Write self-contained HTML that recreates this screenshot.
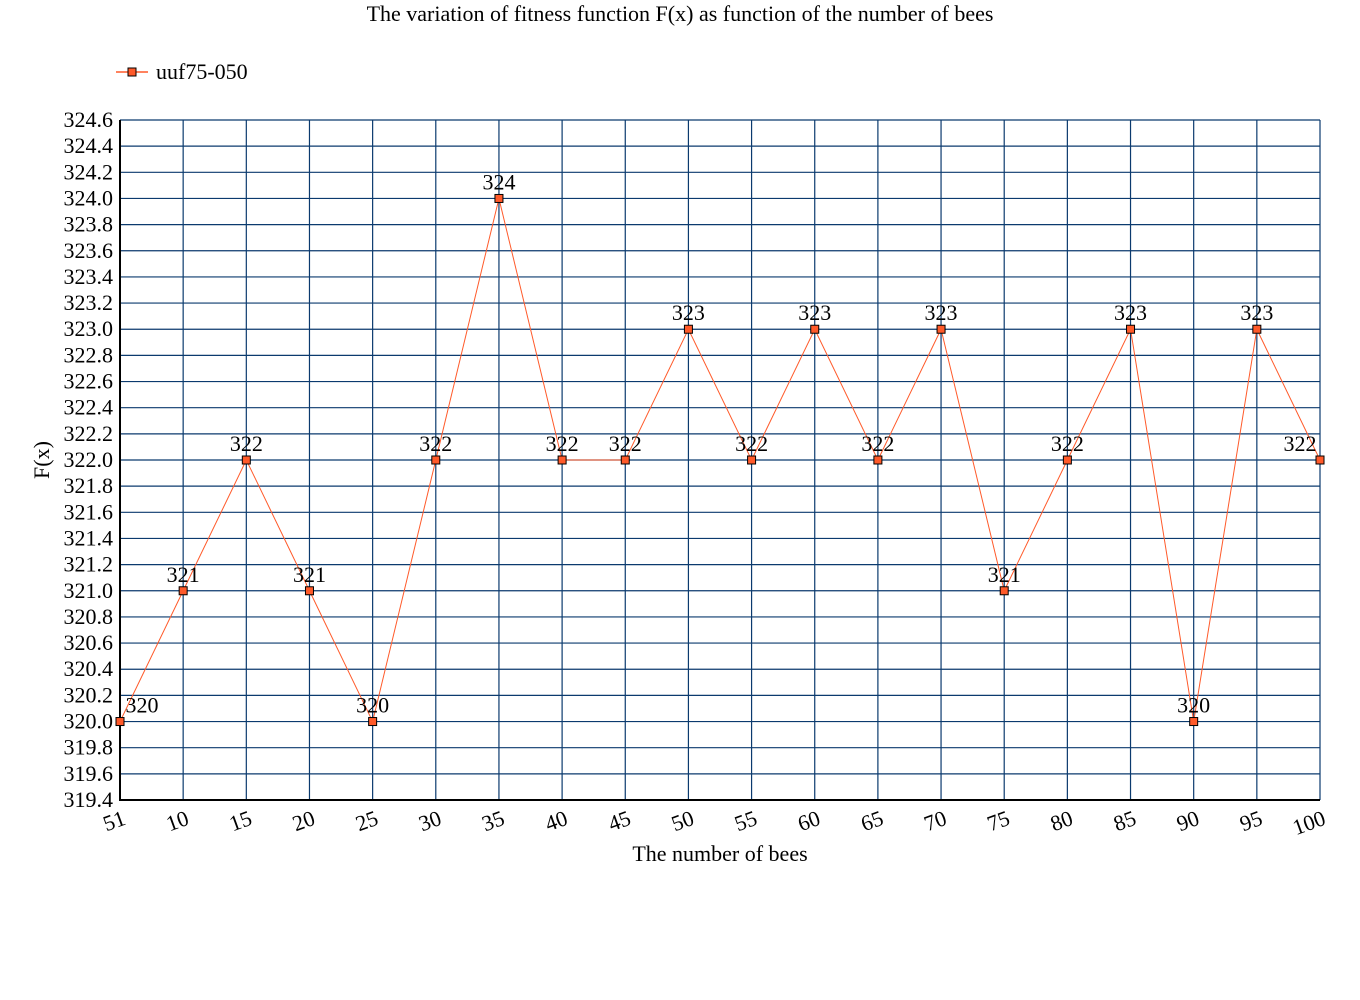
<!DOCTYPE html>
<html><head><meta charset="utf-8"><style>
body{margin:0;background:#fff}
svg{display:block;font-family:"Liberation Serif",serif}
</style></head><body>
<svg width="1360" height="1000">
<text x="680" y="21" text-anchor="middle" font-size="22">The variation of fitness function F(x) as function of the number of bees</text>
<g>
<line x1="116" y1="72" x2="148" y2="72" stroke="#ff5a2a" stroke-width="1.5"/>
<rect x="128" y="68" width="8" height="8" fill="#ff5a2a" stroke="#000" stroke-width="1"/>
<text x="156" y="79" font-size="22">uuf75-050</text>
</g>
<g id="grid"></g>
<g id="axes"></g>
<g id="series"></g>
<text x="720" y="861" text-anchor="middle" font-size="22">The number of bees</text>
<text transform="translate(49,460) rotate(-90)" text-anchor="middle" font-size="22">F(x)</text>
</svg>
<script>
const categories=["51","10","15","20","25","30","35","40","45","50","55","60","65","70","75","80","85","90","95","100"];
const values=[320,321,322,321,320,322,324,322,322,323,322,323,322,323,321,322,323,320,323,322];
const yMin=319.4,yMax=324.6,yStep=0.2;
const L=120,R=1320,T=120,B=800;
const NS="http://www.w3.org/2000/svg";
const xp=i=>L+i*(R-L)/(categories.length-1);
const yp=v=>B-(v-yMin)/(yMax-yMin)*(B-T);
function mk(tag,at,parent,txt){const e=document.createElementNS(NS,tag);for(const k in at)e.setAttribute(k,at[k]);if(txt!=null)e.textContent=txt;parent.appendChild(e);return e;}
const grid=document.getElementById('grid'),axes=document.getElementById('axes'),ser=document.getElementById('series');
const nT=Math.round((yMax-yMin)/yStep);
for(let k=0;k<=nT;k++){const v=yMin+k*yStep;const y=yp(v);
 const g=mk('line',{x1:L,x2:R,y1:y,y2:y,stroke:'#0b3a6e','stroke-width':1.2},grid);
 
 
 const t=mk('text',{x:113,y:y+7,'text-anchor':'end','font-size':22},axes,v.toFixed(1));
 
 
}
categories.forEach((c,i)=>{const x=xp(i);
 const g=mk('line',{x1:x,x2:x,y1:T,y2:B,stroke:'#0b3a6e','stroke-width':1.2},grid);
 
 
 const t=mk('text',{transform:`translate(${x+7},${B+24}) rotate(-20)`,'text-anchor':'end','font-size':22},axes,c);
 
 
});
mk('line',{x1:L,x2:L,y1:T,y2:B+1,stroke:'#000','stroke-width':2},axes);
mk('line',{x1:L-1,x2:R,y1:B,y2:B,stroke:'#000','stroke-width':2},axes);
mk('polyline',{points:values.map((v,i)=>xp(i)+','+yp(v)).join(' '),fill:'none',stroke:'#ff5a2a','stroke-width':1},ser);
values.forEach((v,i)=>{
 const r=mk('rect',{x:xp(i)-4,y:yp(v)-4,width:8,height:8,fill:'#ff5a2a',stroke:'#000','stroke-width':1},ser);
 
 
 const dx=i===0?22:(i===values.length-1?-20:0);
 const t=mk('text',{x:xp(i)+dx,y:yp(v)-9,'text-anchor':'middle','font-size':22},ser,String(v));
 
 
});
</script>
</body></html>
